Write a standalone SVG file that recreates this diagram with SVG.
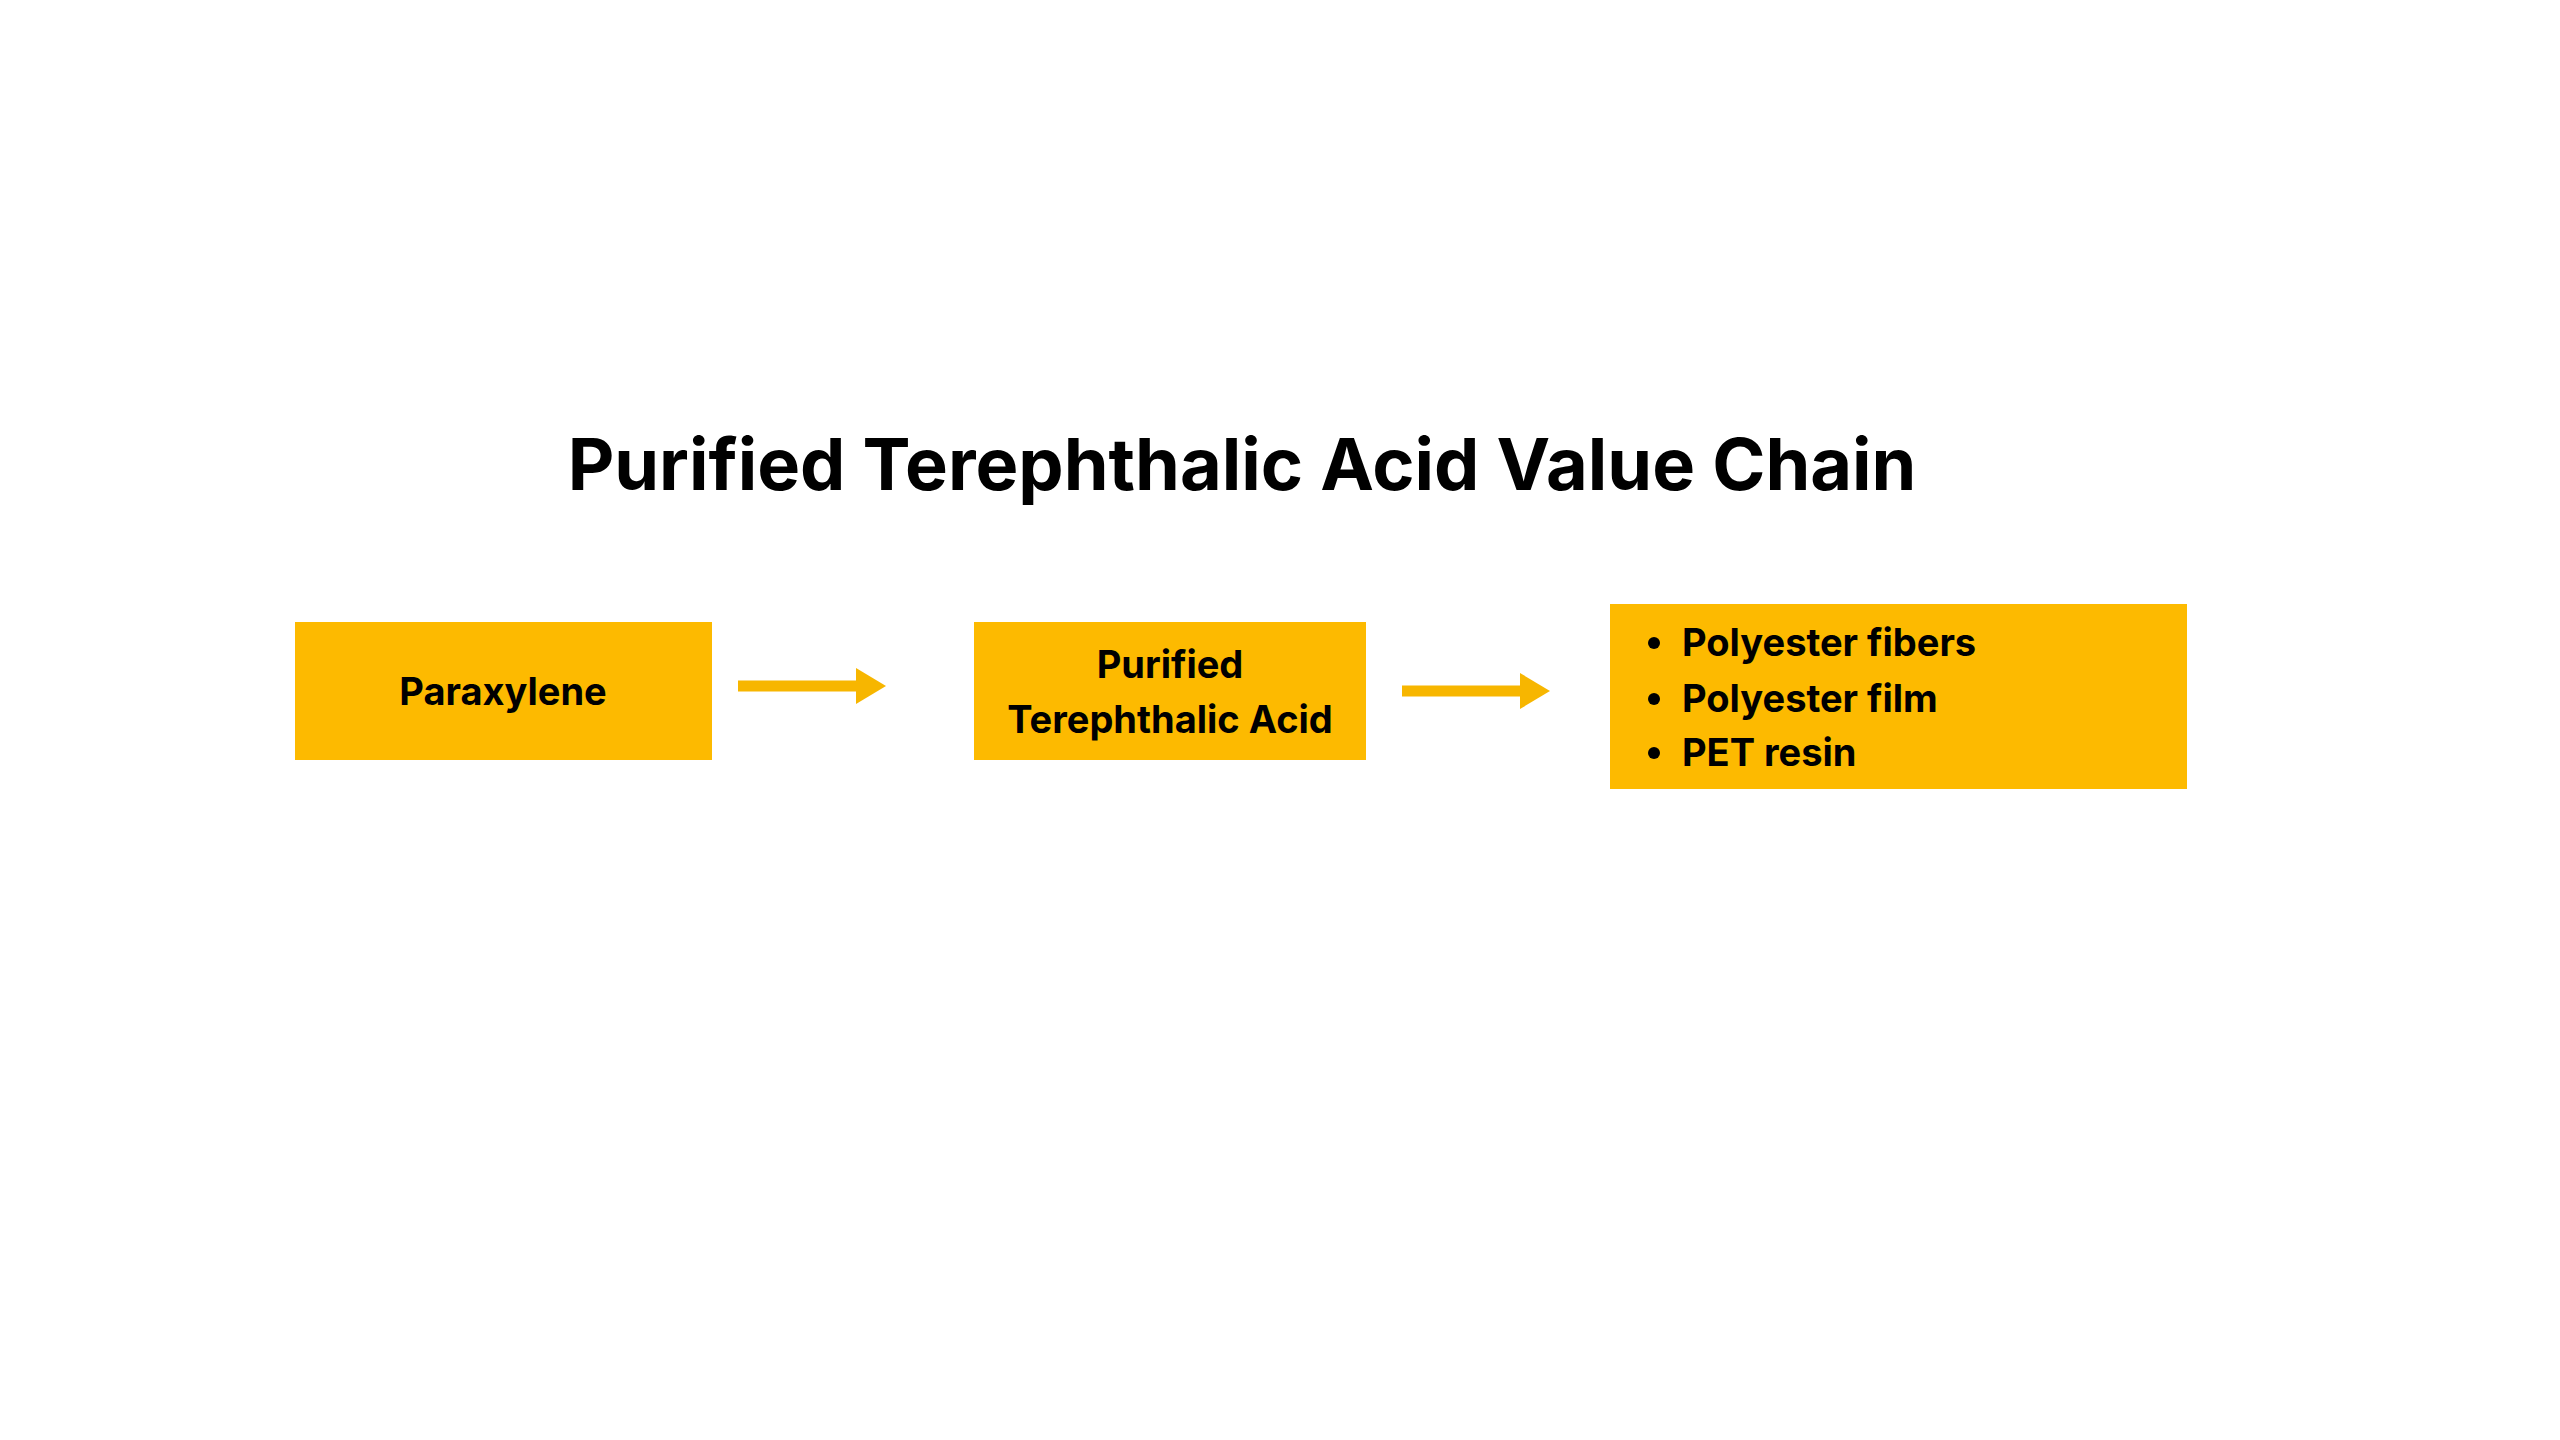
<svg xmlns="http://www.w3.org/2000/svg" width="2560" height="1440" viewBox="0 0 2560 1440">
<style>
.box{fill:#FDBA00}
.t{font-family:Inter,"Liberation Sans",sans-serif;font-weight:700;font-size:38px;fill:#000}
.title{font-family:Inter,"Liberation Sans",sans-serif;font-weight:700;font-size:72px;fill:#000}
.arr{stroke:#F7B600;stroke-width:11;fill:none}
.head{fill:#F7B600}
</style>
<rect width="2560" height="1440" fill="#fff"/>
<text class="title" x="1242" y="490" text-anchor="middle">Purified Terephthalic Acid Value Chain</text>
<g id="paraxylene"><rect class="box" x="295" y="622" width="417" height="138"/>
<text class="t" x="503" y="705" text-anchor="middle">Paraxylene</text></g>
<g id="pta"><rect class="box" x="974" y="622" width="392" height="138"/>
<text class="t" x="1170" y="678" text-anchor="middle">Purified</text>
<text class="t" x="1170" y="733" text-anchor="middle">Terephthalic Acid</text></g>
<g id="products"><rect class="box" x="1610" y="604" width="577" height="185"/>
<circle cx="1654" cy="643" r="6"/><circle cx="1654" cy="699" r="6"/><circle cx="1654" cy="753" r="6"/>
<text class="t" x="1682" y="656">Polyester fibers</text>
<text class="t" x="1682" y="712">Polyester film</text>
<text class="t" x="1682" y="766">PET resin</text></g>
<g id="connectors">
<line class="arr" x1="738" y1="686" x2="862" y2="686"/>
<path class="head" d="M856 668 L886 686 L856 704 Z"/>
<line class="arr" x1="1402" y1="691" x2="1526" y2="691"/>
<path class="head" d="M1520 673 L1550 691 L1520 709 Z"/>
</g>
</svg>
